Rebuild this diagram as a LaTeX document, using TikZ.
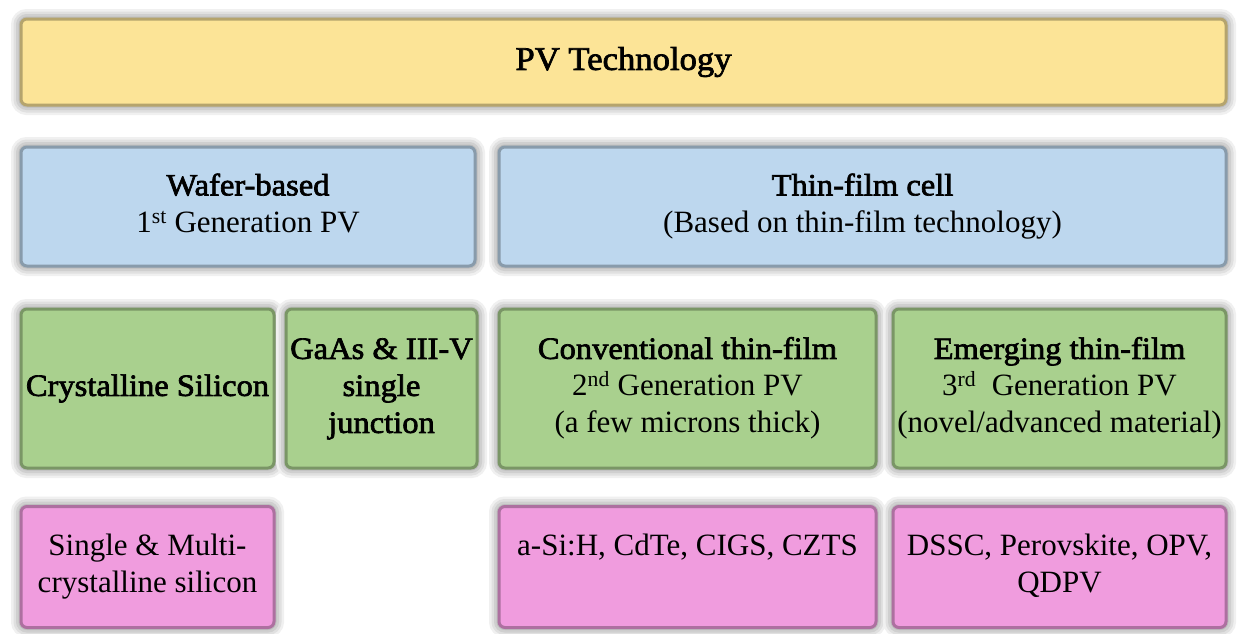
\documentclass[tikz,border=0pt]{standalone}
\usepackage{fontspec}
\newfontfamily\pvfont{Liberation Serif}[Ligatures=NoCommon]
\newfontfamily\pvbold{Liberation Serif}[Ligatures=NoCommon, FakeBold=2.2, FakeStretch=1.05]
\definecolor{pvyellow}{HTML}{FCE497}
\definecolor{pvblue}{HTML}{BDD7EE}
\definecolor{pvgreen}{HTML}{A9D08E}
\definecolor{pvpink}{HTML}{F09CDE}
\newcommand\pvlines[1]{\begin{tabular}{@{}c@{}}#1\end{tabular}}
\tikzset{
  pvbox/.style={rectangle, rounded corners=6pt, inner sep=0pt,
    font=\fontsize{31}{37}\selectfont, text=black,
    preaction={draw=black!6, line width=20pt},
    preaction={draw=black!12, line width=15pt},
    preaction={draw=black!19, line width=10pt},
    preaction={draw=black!26, line width=5pt},
    preaction={fill=#1},
    preaction={draw=#1!72!black, line width=3pt}},
}
\begin{document}
\begin{tikzpicture}[x=1pt,y=-1pt]
\useasboundingbox (0,0) rectangle (1238,633);
\fill[white] (0,0) rectangle (1238,633);
% row 1
\node[pvbox=pvyellow, minimum width=1205pt, minimum height=86pt, font=\fontsize{33}{37}\selectfont]
  (pv) at (623.5,62) {\raisebox{-3pt}{\pvbold PV Technology}};
% row 2
\node[pvbox=pvblue, minimum width=454pt, minimum height=119pt]
  (wafer) at (248,206.5) {\pvlines{\pvbold Wafer-based\\\pvfont 1\textsuperscript{st} Generation PV}};
\node[pvbox=pvblue, minimum width=727pt, minimum height=119pt]
  (thin) at (862.5,206.5) {\pvlines{\pvbold Thin-film cell\\\pvfont (Based on thin-film technology)}};
% row 3
\node[pvbox=pvgreen, minimum width=253pt, minimum height=159pt]
  (cryst) at (147.5,388.5) {\pvlines{\pvbold Crystalline Silicon}};
\node[pvbox=pvgreen, minimum width=191pt, minimum height=159pt]
  (gaas) at (381.5,388.5) {\pvlines{\pvbold GaAs \& III-V\\\pvbold single\\\pvbold junction}};
\node[pvbox=pvgreen, minimum width=377pt, minimum height=159pt]
  (conv) at (687.5,388.5) {\pvlines{\pvbold Conventional thin-film\\\pvfont 2\textsuperscript{nd} Generation PV\\\pvfont (a few microns thick)}};
\node[pvbox=pvgreen, minimum width=333pt, minimum height=159pt]
  (emerg) at (1059.5,388.5) {\pvlines{\pvbold Emerging thin-film\\\pvfont 3\textsuperscript{rd}\ \ Generation PV\\\pvfont (novel/advanced material)}};
% row 4
\node[pvbox=pvpink, minimum width=253pt, minimum height=121pt]
  (single) at (147.5,567) {\pvlines{\pvfont Single \& Multi-\\\pvfont crystalline silicon}};
\node[pvbox=pvpink, minimum width=377pt, minimum height=121pt]
  (asi) at (687.5,567) {\pvlines{\pvfont a-Si:H, CdTe, CIGS, CZTS\\\mbox{}}};
\node[pvbox=pvpink, minimum width=333pt, minimum height=121pt]
  (dssc) at (1059.5,567) {\pvlines{\pvfont DSSC, Perovskite, OPV,\\\pvfont QDPV}};
\end{tikzpicture}
\end{document}
